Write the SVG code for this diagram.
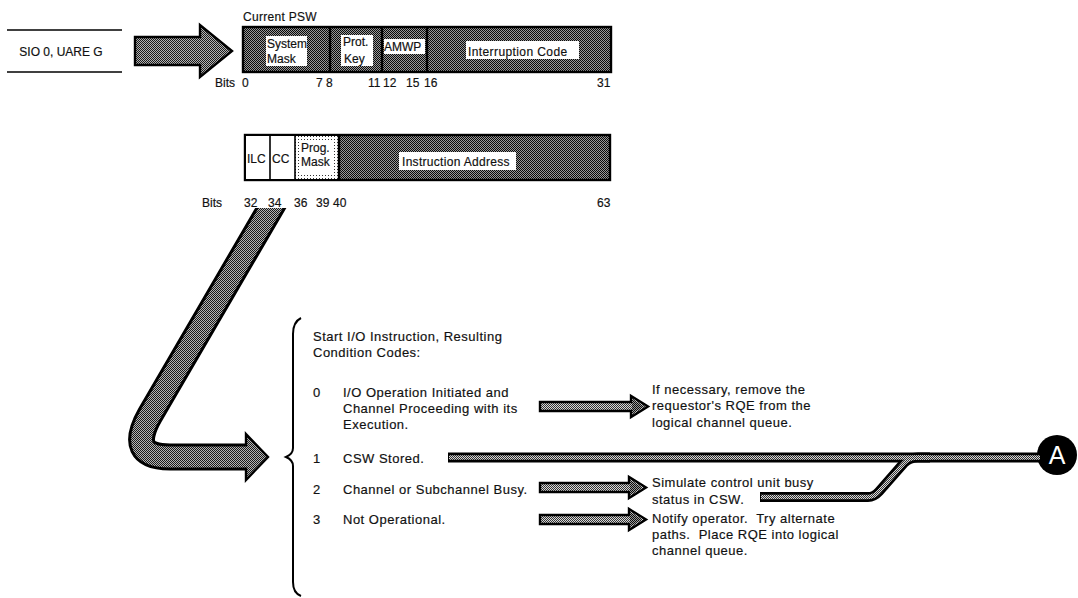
<svg xmlns="http://www.w3.org/2000/svg" width="1078" height="598" viewBox="0 0 1078 598">
<defs>
<pattern id="dk" width="2" height="2" patternUnits="userSpaceOnUse"><rect width="2" height="2" fill="#999"/><rect width="1" height="1" fill="#0a0a0a"/><rect x="1" y="1" width="1" height="1" fill="#0a0a0a"/></pattern>
<pattern id="md" width="2" height="2" patternUnits="userSpaceOnUse"><rect width="2" height="2" fill="#b4b4b4"/><rect width="1" height="1" fill="#1a1a1a"/><rect x="1" y="1" width="1" height="1" fill="#1a1a1a"/></pattern>
<pattern id="ln" width="2" height="2" patternUnits="userSpaceOnUse"><rect width="2" height="2" fill="#d8d8d8"/><rect width="1" height="1" fill="#333"/><rect x="1" y="1" width="1" height="1" fill="#333"/></pattern>
<pattern id="lt" width="3" height="3" patternUnits="userSpaceOnUse"><rect width="3" height="3" fill="#fff"/><rect x="1" y="1" width="1" height="1" fill="#333"/></pattern>
<clipPath id="cutTop"><rect x="0" y="208" width="1078" height="390"/></clipPath>
<style>
.t{font-family:"Liberation Sans",Arial,sans-serif;font-size:12px;fill:#111;stroke:#111;stroke-width:0.18}
.s{font-size:12px}
.b{font-size:13px;letter-spacing:0.5px}
.blk{fill:none;stroke:#000}
.ptn{fill:none;stroke:url(#md)}
.lnp{fill:none;stroke:url(#ln)}
.arr{fill:url(#md);stroke:#000;stroke-width:2.4;stroke-linejoin:miter}
.head{fill:url(#dk)}
</style>
</defs>
<rect width="1078" height="598" fill="#fff"/>

<g id="sio">
<line x1="7" y1="30" x2="122" y2="30" stroke="#000" stroke-width="1.4"/>
<line x1="7" y1="72" x2="122" y2="72" stroke="#000" stroke-width="1.4"/>
<text class="t" x="61" y="56" text-anchor="middle">SIO 0, UARE G</text>
</g>

<g id="psw1">
<text class="t" x="243" y="21" font-size="12.5" letter-spacing="0.3">Current PSW</text>
<rect x="243" y="27" width="368" height="45" fill="url(#dk)" stroke="#000" stroke-width="2.4"/>
<line x1="330" y1="27" x2="330" y2="72" stroke="#000" stroke-width="2.4"/>
<line x1="382" y1="27" x2="382" y2="72" stroke="#000" stroke-width="2.4"/>
<line x1="427" y1="27" x2="427" y2="72" stroke="#000" stroke-width="2.4"/>
<rect x="266" y="36" width="41" height="30" fill="#fff"/>
<rect x="341" y="35" width="32" height="31" fill="#fff"/>
<rect x="384" y="39" width="41" height="15" fill="#fff"/>
<rect x="466" y="41" width="113" height="18" fill="#fff"/>
<text class="t s" x="267" y="48">System</text>
<text class="t s" x="267" y="63">Mask</text>
<text class="t s" x="343" y="46">Prot.</text>
<text class="t s" x="344" y="63">Key</text>
<text class="t s" x="384" y="51">AMWP</text>
<text class="t" x="468" y="56" font-size="13" letter-spacing="0.4">Interruption Code</text>
<text class="t s" x="215" y="87">Bits</text>
<text class="t s" x="242" y="87">0</text>
<text class="t s" x="316" y="87">7</text>
<text class="t s" x="326" y="87">8</text>
<text class="t s" x="368" y="87">11</text>
<text class="t s" x="383" y="87">12</text>
<text class="t s" x="406" y="87">15</text>
<text class="t s" x="424" y="87">16</text>
<text class="t s" x="597" y="87">31</text>
</g>

<g id="psw2">
<rect x="245" y="135" width="365" height="45" fill="url(#dk)" stroke="#000" stroke-width="2.4"/>
<rect x="246" y="136" width="49" height="43" fill="#fff"/>
<rect x="295" y="136" width="44" height="43" fill="url(#lt)"/>
<rect x="301" y="140" width="33" height="33" fill="#fff"/>
<line x1="270" y1="135" x2="270" y2="180" stroke="#000" stroke-width="1.6"/>
<line x1="295" y1="135" x2="295" y2="180" stroke="#000" stroke-width="1.6"/>
<line x1="339" y1="135" x2="339" y2="180" stroke="#000" stroke-width="2.4"/>
<rect x="399" y="152" width="117" height="18" fill="#fff"/>
<text class="t s" x="247" y="163">ILC</text>
<text class="t s" x="272" y="163">CC</text>
<text class="t s" x="301" y="152">Prog.</text>
<text class="t s" x="301" y="166">Mask</text>
<text class="t" x="402" y="166" font-size="12.5" letter-spacing="0.3">Instruction Address</text>
<text class="t s" x="202" y="207">Bits</text>
<text class="t s" x="244" y="207">32</text>
<text class="t s" x="268" y="207">34</text>
<text class="t s" x="294" y="207">36</text>
<text class="t s" x="316" y="207">39</text>
<text class="t s" x="333" y="207">40</text>
<text class="t s" x="597" y="207">63</text>
</g>

<g id="codes">
<path d="M301,318 Q293,322 293,334 L293,448 Q293,454 286,457 Q293,460 293,466 L293,582 Q293,593 301,596" fill="none" stroke="#000" stroke-width="2"/>
<text class="t b" x="313" y="341">Start I/O Instruction, Resulting</text>
<text class="t b" x="313" y="357">Condition Codes:</text>
<text class="t b" x="313" y="397">0</text>
<text class="t b" x="343" y="397" letter-spacing="0.6">I/O Operation Initiated and</text>
<text class="t b" x="343" y="413" letter-spacing="0.6">Channel Proceeding with its</text>
<text class="t b" x="343" y="429" letter-spacing="0.6">Execution.</text>
<text class="t b" x="313" y="463">1</text>
<text class="t b" x="343" y="463" letter-spacing="0.6">CSW Stored.</text>
<text class="t b" x="313" y="494">2</text>
<text class="t b" x="343" y="494" letter-spacing="0.6">Channel or Subchannel Busy.</text>
<text class="t b" x="313" y="524">3</text>
<text class="t b" x="343" y="524" letter-spacing="0.6">Not Operational.</text>
</g>

<g id="actions">
<text class="t b" x="652" y="394" letter-spacing="0.4">If necessary, remove the</text>
<text class="t b" x="652" y="410" letter-spacing="0.4">requestor's RQE from the</text>
<text class="t b" x="652" y="427" letter-spacing="0.4">logical channel queue.</text>
<text class="t b" x="652" y="487" letter-spacing="0.4">Simulate control unit busy</text>
<text class="t b" x="652" y="504" letter-spacing="0.4">status in CSW.</text>
<text class="t b" x="652" y="523" letter-spacing="0.4" xml:space="preserve">Notify operator.  Try alternate</text>
<text class="t b" x="652" y="539" letter-spacing="0.4" xml:space="preserve">paths.  Place RQE into logical</text>
<text class="t b" x="652" y="555" letter-spacing="0.4">channel queue.</text>
</g>

<g id="connectorA">
<circle cx="1057" cy="455" r="20" fill="#000"/>
<text x="1057" y="464" text-anchor="middle" font-family="Liberation Sans, Arial, sans-serif" font-size="25" fill="#fff">A</text>
</g>

<g id="connectors">
<path class="arr" d="M135,37 L200,37 L200,25 L232,51 L200,77 L200,65 L135,65 Z"/>
<g clip-path="url(#cutTop)">
<path class="blk" stroke-width="27" d="M276,199 L150,415 Q126,457 170,457 L248,457"/>
<polygon class="arr" points="246,434 268,457 246,480"/>
<path class="ptn" stroke-width="21" d="M276,199 L150,415 Q126,457 170,457 L249,457"/>
</g>
<path class="arr" d="M540,402 L631,402 L631,396 L648,406.5 L631,417 L631,411 L540,411 Z" style="fill:url(#ln)"/>
<polygon class="head" points="632,399 644,406.5 632,414"/>
<path class="arr" d="M540,483 L629,483 L629,477 L646,487.5 L629,498 L629,492 L540,492 Z" style="fill:url(#ln)"/>
<polygon class="head" points="630,480 642,487.5 630,495"/>
<path class="arr" d="M540,515 L629,515 L629,509 L646,519.5 L629,530 L629,524 L540,524 Z" style="fill:url(#ln)"/>
<polygon class="head" points="630,512 642,519.5 630,527"/>
<path class="blk" stroke-width="10" d="M448,457.5 L1040,457.5"/>
<path class="blk" stroke-width="10" stroke-linejoin="round" d="M760,497 L868,497 Q874,497 879,491.5 L904,463 Q909,457.5 918,457.5 L930,457.5"/>
<path class="lnp" stroke-width="4.5" d="M449,457.5 L1040,457.5"/>
<path class="lnp" stroke-width="4.5" stroke-linejoin="round" d="M761,497 L868,497 Q874,497 879,491.5 L904,463 Q909,457.5 918,457.5 L930,457.5"/>
</g>
</svg>
